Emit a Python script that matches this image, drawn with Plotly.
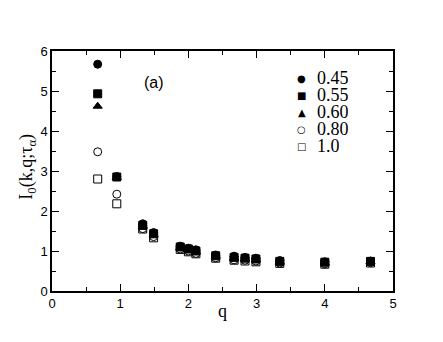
import plotly.graph_objects as go

# wavevector values
q = [0.67, 0.95, 1.33, 1.49, 1.88, 2.0, 2.11, 2.4, 2.67, 2.83, 2.99, 3.34, 4.0, 4.67]

# I_0(k,q;tau_alpha) for each temperature
i_045 = [5.67, 2.86, 1.68, 1.46, 1.12, 1.07, 1.03, 0.90, 0.87, 0.84, 0.82, 0.76, 0.73, 0.75]
i_055 = [4.93, 2.85, 1.64, 1.43, 1.10, 1.05, 1.00, 0.88, 0.84, 0.82, 0.80, 0.74, 0.72, 0.74]
i_060 = [4.62, 2.84, 1.62, 1.40, 1.08, 1.03, 0.98, 0.87, 0.82, 0.80, 0.78, 0.72, 0.70, 0.73]
i_080 = [3.48, 2.42, 1.56, 1.36, 1.05, 1.00, 0.94, 0.83, 0.78, 0.77, 0.75, 0.70, 0.68, 0.71]
i_100 = [2.80, 2.18, 1.55, 1.33, 1.04, 0.98, 0.93, 0.82, 0.77, 0.75, 0.73, 0.69, 0.67, 0.70]

labels = ["0.45", "0.55", "0.60", "0.80", "1.0"]
series = [i_045, i_055, i_060, i_080, i_100]
symbols = ["circle", "square", "triangle-up", "circle-open", "square-open"]
key_glyphs = ["●", "■", "▲", "○", "□"]

fig = go.Figure()
for lab, ys, sym in zip(labels, series, symbols):
    fig.add_trace(go.Scatter(x=q, y=ys, mode="markers", name=lab,
                             marker=dict(symbol=sym, size=8, color="black",
                                         line=dict(width=1, color="black"))))

axis_common = dict(showline=True, linecolor="black", linewidth=1.5, mirror="ticks",
                   ticks="inside", ticklen=7, tickwidth=1, tickcolor="black",
                   showgrid=False, zeroline=False,
                   tickfont=dict(family="Liberation Sans, Arial", size=13, color="black"),
                   minor=dict(ticks="inside", ticklen=4, tickcolor="black", dtick=0.5))

fig.update_xaxes(range=[0, 5], dtick=1, tick0=0, **axis_common)
fig.update_yaxes(range=[0, 6], dtick=1, tick0=0, **axis_common)

serif = dict(family="Liberation Serif", size=18, color="black")
fig.add_annotation(x=0.5, y=-0.083, xref="paper", yref="paper", text="q",
                   xanchor="center", yanchor="middle", showarrow=False, font=serif)
fig.add_annotation(x=-0.072, y=0.52, xref="paper", yref="paper",
                   text="I<sub>0</sub>(k,q;τ<sub>α</sub>)", textangle=-90,
                   xanchor="center", yanchor="middle", showarrow=False, font=serif)
fig.add_annotation(x=0.299, y=0.867, xref="paper", yref="paper", text="(a)",
                   xanchor="center", yanchor="middle", showarrow=False,
                   font=dict(family="Liberation Sans, Arial", size=16, color="black"))

# key drawn as text so the rows sit as close together as in the original
for i, (g, lab) in enumerate(zip(key_glyphs, labels)):
    yk = 0.8875 - i * 17 / 240
    fig.add_annotation(x=0.733, y=yk, xref="paper", yref="paper", text=g,
                       xanchor="center", yanchor="middle", showarrow=False, height=16,
                       font=dict(family="DejaVu Sans", size=10, color="black"))
    fig.add_annotation(x=0.771, y=yk, xref="paper", yref="paper", text=lab,
                       xanchor="left", yanchor="middle", showarrow=False, height=16,
                       font=serif)

# page body adds an 8px margin, so the figure is a bit smaller than the window
fig.update_layout(
    width=427, height=326,
    margin=dict(l=44, r=42, t=43, b=43),
    plot_bgcolor="white", paper_bgcolor="white",
    showlegend=False,
)

fig.write_html("out.html")
